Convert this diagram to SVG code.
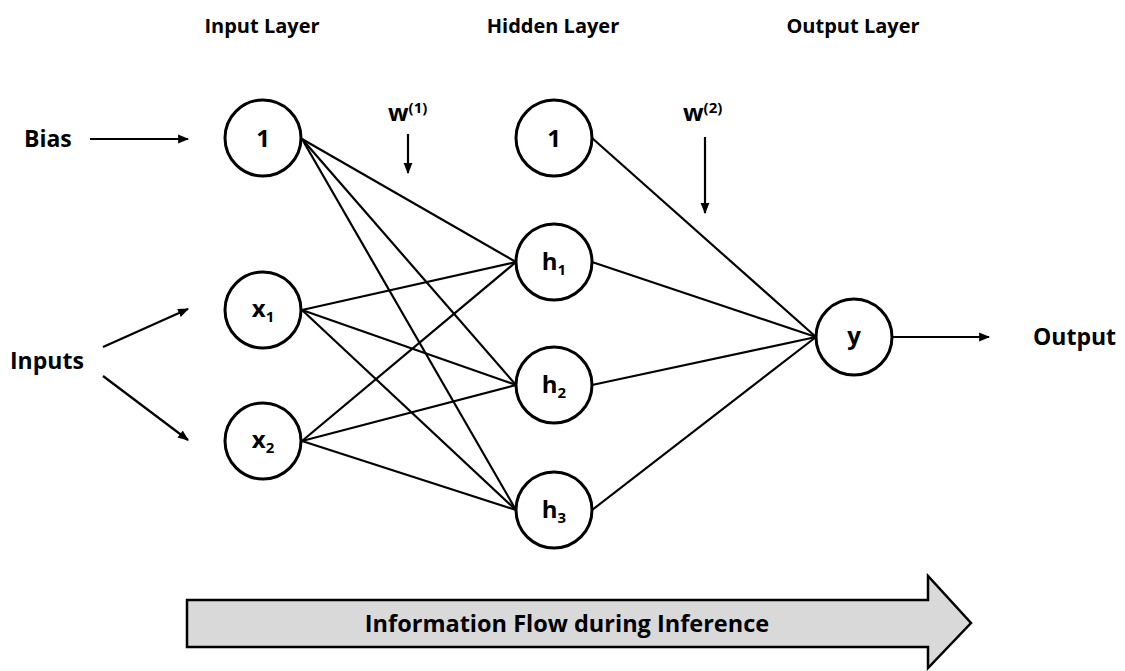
<svg xmlns="http://www.w3.org/2000/svg" width="1125" height="671" viewBox="0 0 1125 671">
  <style>
    .node circle { fill: #ffffff; stroke: #000000; stroke-width: 3; }
    .lbl { font-family: "Open Sans", "Liberation Sans", sans-serif; font-weight: bold; fill: #000000; }
    .title { font-size: 20px; text-anchor: middle; }
    .side { font-size: 23px; }
    .ntext { font-size: 24px; text-anchor: middle; }
    .sub { font-size: 15px; }
    .edge { stroke: #000000; stroke-width: 2.2; fill: none; }
    .arrow { stroke: #000000; stroke-width: 2.2; fill: none; marker-end: url(#head); }
  </style>
  <defs>
    <marker id="head" viewBox="0 0 10 10" refX="9" refY="5" markerWidth="5" markerHeight="5" orient="auto" markerUnits="strokeWidth">
      <path d="M0,1 L10,5 L0,9 Z" fill="#000000"/>
    </marker>
  </defs>
  <rect width="1125" height="671" fill="#ffffff"/>

  <!-- layer titles -->
  <text class="lbl title" x="262" y="33">Input Layer</text>
  <text class="lbl title" x="553" y="33">Hidden Layer</text>
  <text class="lbl title" x="853" y="33">Output Layer</text>

  <!-- side labels -->
  <text class="lbl side" x="24" y="147">Bias</text>
  <text class="lbl side" x="10" y="369">Inputs</text>
  <text class="lbl side" x="1033" y="345">Output</text>

  <!-- weight labels -->
  <text class="lbl" x="388" y="121" font-size="24">w<tspan class="sub" dy="-8">(1)</tspan></text>
  <text class="lbl" x="683" y="121" font-size="24">w<tspan class="sub" dy="-8">(2)</tspan></text>

  <g id="connectors">
    <!-- input layer to hidden layer -->
    <line class="edge" x1="302" y1="139" x2="516" y2="262"/>
    <line class="edge" x1="302" y1="139" x2="516" y2="385"/>
    <line class="edge" x1="302" y1="139" x2="516" y2="510"/>
    <line class="edge" x1="302" y1="310" x2="516" y2="262"/>
    <line class="edge" x1="302" y1="310" x2="516" y2="385"/>
    <line class="edge" x1="302" y1="310" x2="516" y2="510"/>
    <line class="edge" x1="302" y1="441" x2="516" y2="262"/>
    <line class="edge" x1="302" y1="441" x2="516" y2="385"/>
    <line class="edge" x1="302" y1="441" x2="516" y2="510"/>
    <!-- hidden layer to output -->
    <line class="edge" x1="592" y1="138" x2="816" y2="337"/>
    <line class="edge" x1="592" y1="262" x2="816" y2="337"/>
    <line class="edge" x1="592" y1="385" x2="816" y2="337"/>
    <line class="edge" x1="592" y1="510" x2="816" y2="337"/>
    <!-- annotation arrows -->
    <line class="arrow" x1="90" y1="139" x2="188" y2="139"/>
    <line class="arrow" x1="103" y1="347" x2="188" y2="309"/>
    <line class="arrow" x1="103" y1="376" x2="188" y2="440"/>
    <line class="arrow" x1="408" y1="134" x2="408" y2="173"/>
    <line class="arrow" x1="705" y1="137" x2="705" y2="213"/>
    <line class="arrow" x1="893" y1="337" x2="989" y2="337"/>
  </g>

  <g id="in-bias" class="node">
    <circle cx="263" cy="138" r="38"/>
    <text class="lbl ntext" x="263" y="147">1</text>
  </g>
  <g id="in-x1" class="node">
    <circle cx="263" cy="310" r="38"/>
    <text class="lbl ntext" x="263" y="317">x<tspan class="sub" dy="5">1</tspan></text>
  </g>
  <g id="in-x2" class="node">
    <circle cx="263" cy="441" r="38"/>
    <text class="lbl ntext" x="263" y="448">x<tspan class="sub" dy="5">2</tspan></text>
  </g>
  <g id="hid-bias" class="node">
    <circle cx="554" cy="138" r="38"/>
    <text class="lbl ntext" x="554" y="147">1</text>
  </g>
  <g id="hid-h1" class="node">
    <circle cx="554" cy="262" r="38"/>
    <text class="lbl ntext" x="554" y="270">h<tspan class="sub" dy="5">1</tspan></text>
  </g>
  <g id="hid-h2" class="node">
    <circle cx="554" cy="385" r="38"/>
    <text class="lbl ntext" x="554" y="393">h<tspan class="sub" dy="5">2</tspan></text>
  </g>
  <g id="hid-h3" class="node">
    <circle cx="554" cy="510" r="38"/>
    <text class="lbl ntext" x="554" y="518">h<tspan class="sub" dy="5">3</tspan></text>
  </g>
  <g id="out-y" class="node">
    <circle cx="854" cy="337" r="38"/>
    <text class="lbl ntext" x="854" y="344">y</text>
  </g>

  <g id="flow-arrow">
    <path d="M187,600 L928,600 L928,576 L971,623 L928,668 L928,647 L187,647 Z" fill="#d9d9d9" stroke="#000000" stroke-width="2.5" stroke-linejoin="miter"/>
    <text class="lbl" x="567" y="632" font-size="23.5" text-anchor="middle">Information Flow during Inference</text>
  </g>
</svg>
